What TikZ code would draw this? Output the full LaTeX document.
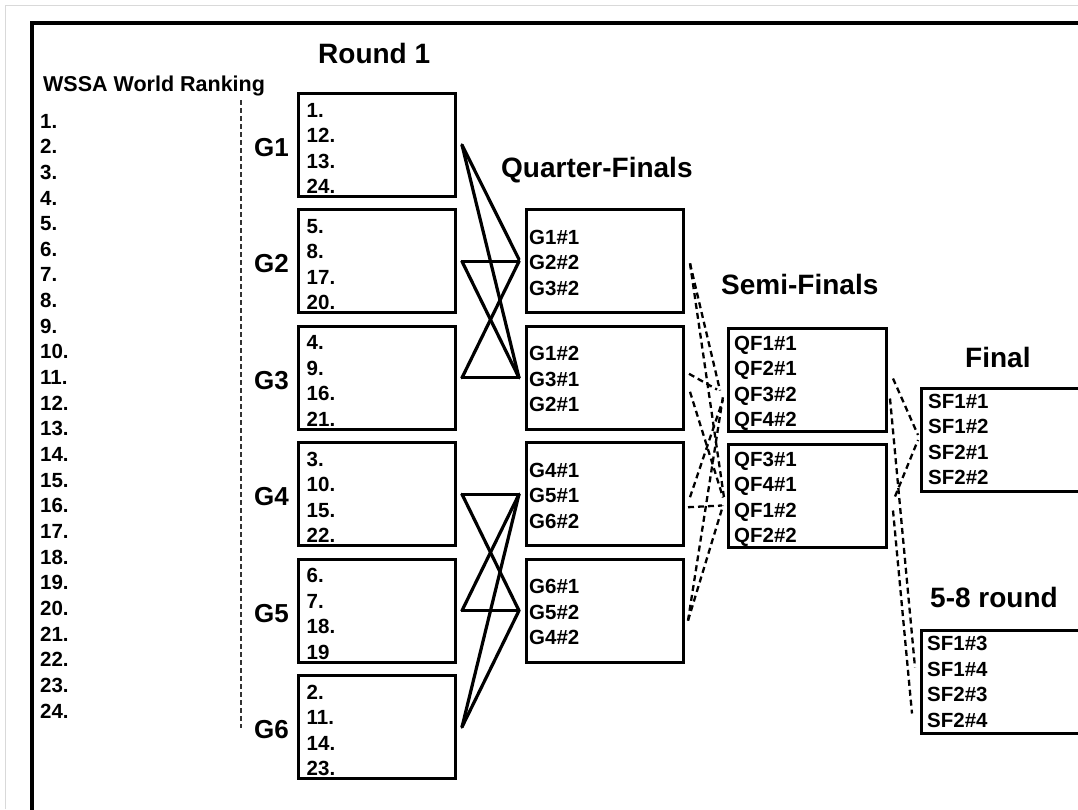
\documentclass[tikz,border=0pt]{standalone}
\usepackage{fontspec}
\setmainfont{Liberation Sans}
\usetikzlibrary{positioning,calc}

\begin{document}
\begin{tikzpicture}[
      x=1pt, y=-1pt,
      grp/.style={draw, line width=3pt, minimum width=157pt, minimum height=103pt, inner sep=0pt},
      qfbox/.style={grp},
      sfbox/.style={grp, minimum width=158pt},
      finbox/.style={grp, minimum width=200pt, anchor=west},
      cell/.style={inner sep=0pt, anchor=base west, align=left,
                   font=\fontsize{20.5}{25.5}\selectfont\bfseries},
      glabel/.style={inner sep=0pt, font=\fontsize{26}{30}\selectfont\bfseries},
      head/.style={inner sep=0pt, anchor=base west, font=\fontsize{28}{32}\selectfont\bfseries},
      rank/.style={inner sep=0pt, align=left, font=\fontsize{20.5}{25.65}\selectfont\bfseries},
      link/.style={line width=3.2pt, line cap=round},
      dlink/.style={line width=2.3pt, dash pattern=on 6pt off 4pt}
  ]
      \useasboundingbox (0,0) rectangle (1078,809);
      \clip (0,0) rectangle (1078,809);
      \fill[white] (0,0) rectangle (1078,809);
      \draw[gray!30, line width=0.8pt] (5,809) -- (5,5) -- (1078,5);
      \draw[line width=3.2pt] (32,23) rectangle (1120,850);

      % Ranking (base = last line)
      \node[inner sep=0pt, anchor=base west, font=\fontsize{21.5}{24}\selectfont\bfseries]
          (wssa) at (43,91) {WSSA World Ranking};
      \node[rank, anchor=base west] (ranking) at (40,718) {
          1.\\2.\\3.\\4.\\5.\\6.\\7.\\8.\\9.\\10.\\11.\\12.\\
          13.\\14.\\15.\\16.\\17.\\18.\\19.\\20.\\21.\\22.\\23.\\24.
      };
      \draw[black!80, line width=1.8pt, dash pattern=on 5pt off 3pt] (241,100) -- (241,728);

      % Round 1
      \node[head] (round) at (318,63) {Round 1};
      \node[grp] (g1) at (377,145)   {};
      \node[grp] (g2) at (377,261.4) {};
      \node[grp] (g3) at (377,377.8) {};
      \node[grp] (g4) at (377,494.2) {};
      \node[grp] (g5) at (377,610.6) {};
      \node[grp] (g6) at (377,727)   {};

      \node[cell] (g1t) at ($(g1.north west)+(9.5,101.5)$) {1.\\12.\\13.\\24.};
      \node[cell] (g2t) at ($(g2.north west)+(9.5,101.5)$) {5.\\8.\\17.\\20.};
      \node[cell] (g3t) at ($(g3.north west)+(9.5,101.5)$) {4.\\9.\\16.\\21.};
      \node[cell] (g4t) at ($(g4.north west)+(9.5,101.5)$) {3.\\10.\\15.\\22.};
      \node[cell] (g5t) at ($(g5.north west)+(9.5,101.5)$) {6.\\7.\\18.\\19};
      \node[cell] (g6t) at ($(g6.north west)+(9.5,101.5)$) {2.\\11.\\14.\\23.};

      \node[glabel, left=8pt of g1, yshift=-2.5pt] (l1) {G1};
      \node[glabel, left=8pt of g2, yshift=-2.5pt] (l2) {G2};
      \node[glabel, left=8pt of g3, yshift=-2.5pt] (l3) {G3};
      \node[glabel, left=8pt of g4, yshift=-2.5pt] (l4) {G4};
      \node[glabel, left=8pt of g5, yshift=-2.5pt] (l5) {G5};
      \node[glabel, left=8pt of g6, yshift=-2.5pt] (l6) {G6};

      % Quarter-finals
      \node[head] (qfhead) at (501,177) {Quarter-Finals};
      \node[qfbox] (qf1) at (605,261.4) {};
      \node[qfbox] (qf2) at (605,377.8) {};
      \node[qfbox] (qf3) at (605,494.2) {};
      \node[qfbox] (qf4) at (605,610.6) {};

      \node[cell] (qf1t) at ($(qf1.north west)+(4,87)$) {G1\#1\\G2\#2\\G3\#2};
      \node[cell] (qf2t) at ($(qf2.north west)+(4,87)$) {G1\#2\\G3\#1\\G2\#1};
      \node[cell] (qf3t) at ($(qf3.north west)+(4,87)$) {G4\#1\\G5\#1\\G6\#2};
      \node[cell] (qf4t) at ($(qf4.north west)+(4,87)$) {G6\#1\\G5\#2\\G4\#2};

      \draw[link] ($(g1.east)+(5,0)$) -- ($(qf1.west)+(-6,-2)$);
      \draw[link] ($(g1.east)+(5,0)$) -- ($(qf2.west)+(-6,0)$);
      \draw[link] ($(g2.east)+(5,0)$) -- ($(qf1.west)+(-6,0)$);
      \draw[link] ($(g2.east)+(5,0)$) -- ($(qf2.west)+(-6,0)$);
      \draw[link] ($(g3.east)+(5,0)$) -- ($(qf1.west)+(-6,0)$);
      \draw[link] ($(g3.east)+(5,0)$) -- ($(qf2.west)+(-6,0)$);
      \draw[link] ($(g4.east)+(5,0)$) -- ($(qf3.west)+(-6,0)$);
      \draw[link] ($(g4.east)+(5,0)$) -- ($(qf4.west)+(-6,0)$);
      \draw[link] ($(g5.east)+(5,0)$) -- ($(qf3.west)+(-6,0)$);
      \draw[link] ($(g5.east)+(5,0)$) -- ($(qf4.west)+(-6,0)$);
      \draw[link] ($(g6.east)+(5,0)$) -- ($(qf3.west)+(-6,0)$);
      \draw[link] ($(g6.east)+(5,0)$) -- ($(qf4.west)+(-6,0)$);

      % Semi-finals
      \node[head] (sfhead) at (721,294) {Semi-Finals};
      \node[sfbox] (sf1) at (807.5,379.5) {};
      \node[sfbox] (sf2) at (807.5,495.5) {};

      \node[cell] (sf1t) at ($(sf1.north west)+(7,100)$) {QF1\#1\\QF2\#1\\QF3\#2\\QF4\#2};
      \node[cell] (sf2t) at ($(sf2.north west)+(7,100)$) {QF3\#1\\QF4\#1\\QF1\#2\\QF2\#2};

      \draw[dlink] ($(qf1.east)+(5,2)$)  -- ($(sf1.west)+(-7,11)$);
      \draw[dlink] ($(qf1.east)+(5,2)$)  -- ($(sf2.west)+(-3,2)$);
      \draw[dlink] ($(qf2.east)+(4,-4)$) -- ($(sf1.west)+(-10,10)$);
      \draw[dlink] ($(qf2.east)+(5,14)$) -- ($(sf2.west)+(-4,2)$);
      \draw[dlink] ($(qf3.east)+(5,3)$)  -- ($(sf1.west)+(-4,20)$);
      \draw[dlink] ($(qf3.east)+(3,13)$) -- ($(sf2.west)+(-5,10)$);
      \draw[dlink] ($(qf4.east)+(3,10)$) -- ($(sf1.west)+(-4,17)$);
      \draw[dlink] ($(qf4.east)+(3,10)$) -- ($(sf2.west)+(-4,10)$);

      % Final and 5-8 round
      \node[head] (finhead) at (965,367) {Final};
      \node[finbox] (fin) at (920,440) {};
      \node[cell] (fint) at ($(fin.north west)+(8,97.5)$) {SF1\#1\\SF1\#2\\SF2\#1\\SF2\#2};
      \node[head] (plhead) at (930,607) {5-8 round};
      \node[finbox] (place) at (920,681.5) {};
      \node[cell] (placet) at ($(place.north west)+(7,98.5)$) {SF1\#3\\SF1\#4\\SF2\#3\\SF2\#4};

      \draw[dlink] ($(sf1.east)+(5,-1)$) -- ($(fin.west)+(-2,-5)$);
      \draw[dlink] ($(sf2.east)+(7,1)$)  -- ($(fin.west)+(-2,0)$);
      \draw[dlink] ($(sf1.east)+(2,19)$) -- ($(place.west)+(-5,-14)$);
      \draw[dlink] ($(sf2.east)+(5,15)$) -- ($(place.west)+(-8,32)$);
  \end{tikzpicture}
\end{document}
